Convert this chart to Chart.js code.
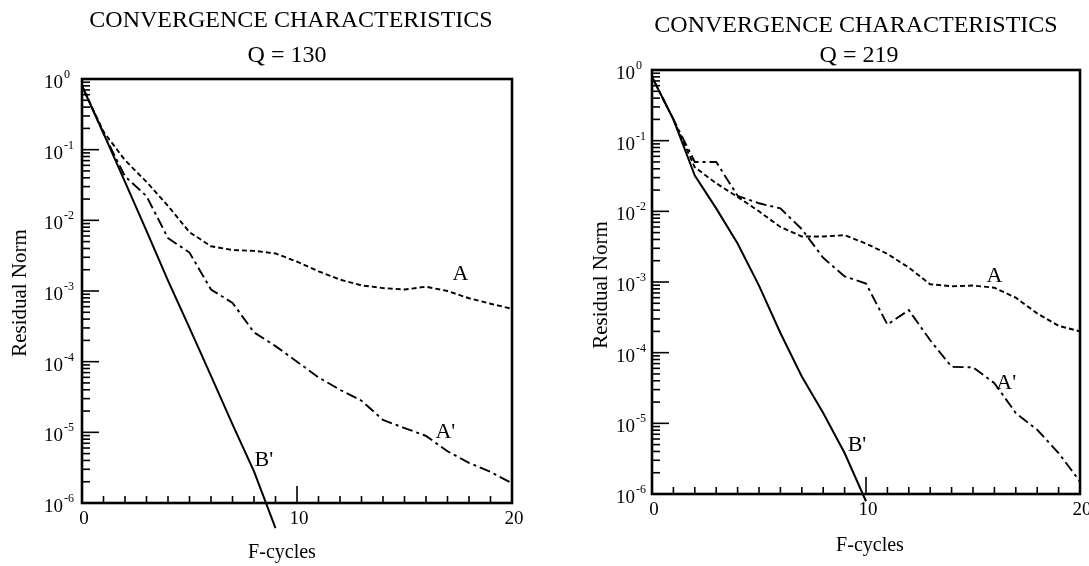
<!DOCTYPE html>
<html>
<head>
<meta charset="utf-8">
<script src="https://cdn.jsdelivr.net/npm/chart.js@4/dist/chart.umd.min.js"></script>
<style>
html,body{margin:0;padding:0;background:#fff;}
#wrap{position:relative;width:1089px;height:566px;overflow:hidden;}
.pane{position:absolute;top:0;height:566px;}
</style>
</head>
<body>
<div id="wrap">
  <div class="pane" style="left:0;width:545px"><canvas id="c130" width="545" height="566"></canvas></div>
  <div class="pane" style="left:545px;width:544px"><canvas id="c219" width="544" height="566"></canvas></div>
</div>
<script>
/* ---- data: residual norm per F-cycle (x = 0,1,2,...) ---- */
const CYCLES=[0,1,2,3,4,5,6,7,8,9,10,11,12,13,14,15,16,17,18,19,20];
const X_LABELS=[0,10,20];

// Q = 130
const Q130_A =[8.0e-1,1.8e-1,7.1e-2,3.5e-2,1.6e-2,6.8e-3,4.3e-3,3.8e-3,3.7e-3,3.4e-3,2.6e-3,
               1.9e-3,1.45e-3,1.2e-3,1.1e-3,1.05e-3,1.15e-3,1.0e-3,7.9e-4,6.6e-4,5.6e-4];
const Q130_A2=[8.0e-1,1.7e-1,4.2e-2,2.2e-2,5.6e-3,3.5e-3,1.05e-3,6.8e-4,2.6e-4,1.66e-4,1.0e-4,
               6.0e-5,4.0e-5,2.8e-5,1.5e-5,1.15e-5,8.9e-6,5.4e-6,3.7e-6,2.75e-6,1.9e-6];
const Q130_B2=[8.0e-1,1.7e-1,3.5e-2,7.1e-3,1.4e-3,3.0e-4,6.3e-5,1.3e-5,2.8e-6,4.4e-7];

// Q = 219
const Q219_A =[8.0e-1,2.0e-1,4.2e-2,2.5e-2,1.6e-2,1.0e-2,6.0e-3,4.4e-3,4.4e-3,4.6e-3,3.5e-3,
               2.5e-3,1.6e-3,9.3e-4,8.7e-4,8.9e-4,8.3e-4,6.0e-4,3.6e-4,2.4e-4,2.0e-4];
const Q219_A2=[8.0e-1,2.0e-1,5.0e-2,5.0e-2,1.66e-2,1.3e-2,1.1e-2,5.6e-3,2.2e-3,1.2e-3,9.5e-4,
               2.5e-4,4.0e-4,1.5e-4,6.3e-5,6.2e-5,3.7e-5,1.4e-5,8.1e-6,3.8e-6,1.5e-6];
const Q219_B2=[8.0e-1,2.0e-1,3.2e-2,1.1e-2,3.5e-3,8.9e-4,1.9e-4,4.6e-5,1.4e-5,3.8e-6,7.9e-7];

// curve labels, anchored in data space (cycle, residual)
const Q130_TAGS=[{t:'A',x:17.6,y:1.7e-3},{t:"A'",x:16.9,y:1.0e-5},{t:"B'",x:8.46,y:4.0e-6}];
const Q219_TAGS=[{t:'A',x:16.0,y:1.2e-3},{t:"A'",x:16.55,y:3.7e-5},{t:"B'",x:9.58,y:4.9e-6}];

const SERIF='"Liberation Serif","Times New Roman",serif';
const pts=v=>v.map((y,i)=>({x:CYCLES[i],y}));

// frame, inward ticks, labels and titles, all placed through the chart scales
const framePlugin={
  id:'frame',
  afterDatasetsDraw(chart,args,o){
    const {ctx,chartArea:a,scales:{x,y}}=chart;
    ctx.save();
    ctx.strokeStyle='#000';ctx.fillStyle='#000';
    const ln=(x0,y0,x1,y1)=>{ctx.beginPath();ctx.moveTo(x0,y0);ctx.lineTo(x1,y1);ctx.stroke();};
    ctx.lineWidth=1.6;
    x.ticks.forEach(t=>{
      if(t.value<=x.min||t.value>=x.max) return;
      const px=x.getPixelForValue(t.value);
      ln(px,a.bottom,px,a.bottom-(t.value%10===0?17:7));
    });
    y.ticks.forEach(t=>{
      const v=t.value; if(v<=y.min*1.0001||v>=y.max*0.9999) return;
      const m=v/Math.pow(10,Math.floor(Math.log10(v)+1e-9));
      if(Math.abs(m-Math.round(m))>0.01) return;
      const py=y.getPixelForValue(v);
      ln(a.left,py,a.left+(Math.round(m)===1?17:8),py);
    });
    ctx.lineWidth=2.6;
    ctx.strokeRect(a.left,a.top,a.right-a.left,a.bottom-a.top);

    // x tick labels
    ctx.textBaseline='middle';ctx.textAlign='center';
    ctx.font='19px '+SERIF;
    X_LABELS.forEach(v=>ctx.fillText(String(v),x.getPixelForValue(v)+2,a.bottom+16));
    // y tick labels 10^n
    y.ticks.forEach(t=>{
      const e=Math.round(Math.log10(t.value));
      if(Math.abs(Math.log10(t.value)-e)>1e-6) return;
      const py=y.getPixelForValue(t.value);
      ctx.font='19px '+SERIF;ctx.textAlign='right';ctx.textBaseline='middle';
      ctx.fillText('10',a.left-o.yLabGap,py+4);
      ctx.font='12px '+SERIF;ctx.textAlign='left';ctx.textBaseline='alphabetic';
      ctx.fillText(String(e),a.left-o.yLabGap+1,py-1);
    });
    // titles
    ctx.textAlign='center';ctx.textBaseline='middle';
    ctx.font='24px '+SERIF;
    o.title.forEach((s,i)=>ctx.fillText(s,o.titleX[i],o.titleY[i]));
    ctx.font='20px '+SERIF;
    ctx.fillText('F-cycles',o.xTitle[0],o.xTitle[1]);
    ctx.save();ctx.translate(o.yTitle[0],o.yTitle[1]);ctx.rotate(-Math.PI/2);
    ctx.font='21px '+SERIF;ctx.fillText('Residual Norm',0,0);ctx.restore();
    // curve tags
    ctx.font='22px '+SERIF;
    o.tags.forEach(g=>ctx.fillText(g.t,x.getPixelForValue(g.x),y.getPixelForValue(g.y)));
    ctx.restore();
  }
};

function makePanel(id,a,a2,b2,tags,pad,opt){
  const base={borderColor:'#000',backgroundColor:'#000',pointRadius:0,tension:0,fill:false,clip:false};
  const ds=[
    Object.assign({label:'A',data:pts(a),borderWidth:1.9,borderDash:[5,3]},base),
    Object.assign({label:"A'",data:pts(a2),borderWidth:1.9,borderDash:[11,4,3,4]},base),
    Object.assign({label:"B'",data:pts(b2),borderWidth:2},base)
  ];
  return new Chart(document.getElementById(id),{
    type:'line',
    data:{datasets:ds},
    options:{
      responsive:false,animation:false,devicePixelRatio:1,
      layout:{padding:pad},
      plugins:{legend:{display:false},tooltip:{enabled:false},
        frame:Object.assign({tags},opt)},
      scales:{
        x:{type:'linear',min:0,max:20,display:false,ticks:{stepSize:1,autoSkip:false}},
        y:{type:'logarithmic',min:1e-6,max:1,display:false,ticks:{autoSkip:false}}
      }
    },
    plugins:[framePlugin]
  });
}

makePanel('c130',Q130_A,Q130_A2,Q130_B2,Q130_TAGS,
  {left:82,right:33,top:79,bottom:63},
  {title:['CONVERGENCE CHARACTERISTICS','Q = 130'],titleX:[291,287],titleY:[21,56],
   xTitle:[282,553],yTitle:[20,293],yLabGap:19});
makePanel('c219',Q219_A,Q219_A2,Q219_B2,Q219_TAGS,
  {left:107,right:9,top:70,bottom:72},
  {title:['CONVERGENCE CHARACTERISTICS','Q = 219'],titleX:[311,314],titleY:[26,56],
   xTitle:[325,546],yTitle:[56,285],yLabGap:17});
</script>
</body>
</html>
